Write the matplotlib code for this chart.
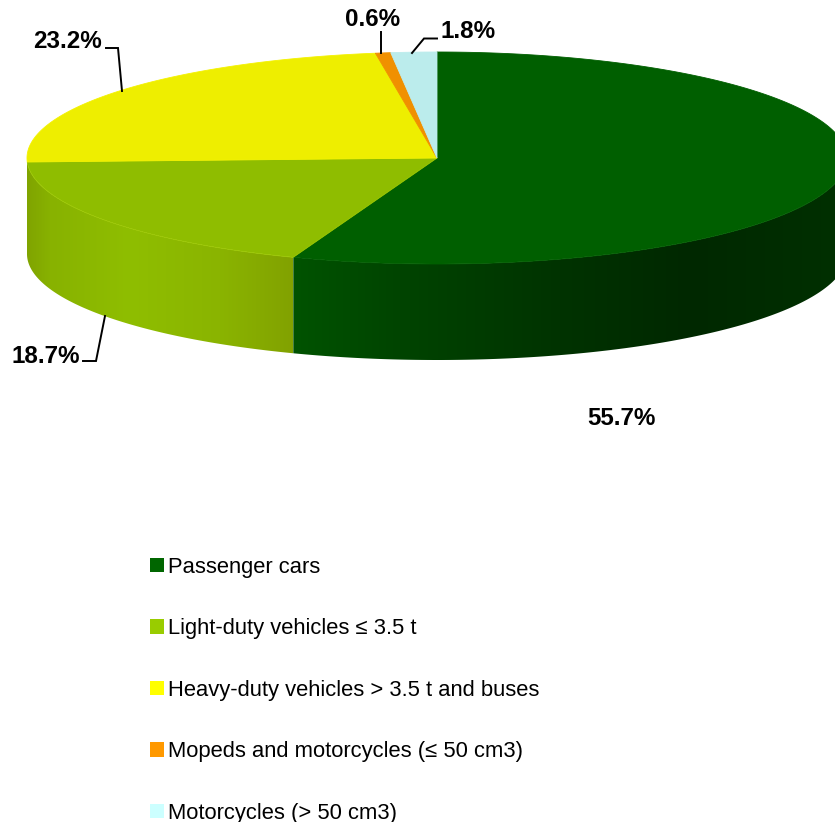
import numpy as np
import matplotlib
matplotlib.use("Agg")
import matplotlib.pyplot as plt
from matplotlib.patches import Polygon, Patch
from matplotlib.colors import to_rgb

plt.rcParams['font.family'] = ['Liberation Sans', 'DejaVu Sans']

categories = ["Passenger cars", "Light-duty vehicles ≤ 3.5 t",
              "Heavy-duty vehicles > 3.5 t and buses",
              "Mopeds and motorcycles (≤ 50 cm3)", "Motorcycles (> 50 cm3)"]
values = [55.7, 18.7, 23.2, 0.6, 1.8]
value_labels = ["55.7%", "18.7%", "23.2%", "0.6%", "1.8%"]
legend_colors = ["#006600", "#99CC00", "#FFFF00", "#FF9900", "#CCFFFF"]
top_colors = ["#005F00", "#8FBD00", "#EEEE00", "#F09000", "#BBECEC"]
edge_colors = ["#005F00", "#9CC800", "#F4F200", "#F09000", "#BBECEC"]

CX, CY, RX, RY, DEPTH = 437, 158, 410, 106, 96

fig = plt.figure(figsize=(8.35, 8.22), dpi=100)
ax = fig.add_axes([0, 0, 1, 1])
ax.set_xlim(0, 835)
ax.set_ylim(822, 0)
ax.axis("off")


def rim(a0, a1, n=300):
    a = np.radians(np.linspace(a0, a1, n))
    return CX + RX * np.sin(a), CY - RY * np.cos(a)


bounds = np.concatenate([[0], np.cumsum(values)]) * 360 / sum(values)

# Side wall: column-wise shading clipped to the visible rim of each slice
side_stops = {
    0: ([293, 400, 560, 690, 840], ["#005300", "#004400", "#003300", "#002800", "#003000"]),
    1: ([27, 50, 130, 220, 293], ["#80A400", "#88B200", "#8FBE00", "#8AB400", "#82A200"]),
}
for i in (0, 1):
    a0, a1 = bounds[i], bounds[i + 1]
    if i == 0:
        a0 = 90.0  # the wall of the first slice is visible from the right edge on
    else:
        a1 = 270.0
    x, y = rim(a0, a1)
    poly = np.vstack([np.c_[x, y], np.c_[x[::-1], y[::-1] + DEPTH]])
    xs, stops = side_stops[i]
    cols = np.arange(xs[0], xs[-1] + 1)
    rgb = np.array([to_rgb(c) for c in stops])
    grad = np.stack([np.interp(cols, xs, rgb[:, k]) for k in range(3)], axis=-1)[None, :, :]
    im = ax.imshow(grad, extent=(xs[0], xs[-1], 370, 50), aspect="auto", zorder=1,
                   interpolation="bilinear")
    clip = Polygon(poly, closed=True, transform=ax.transData, facecolor="none", edgecolor="none")
    ax.add_patch(clip)
    im.set_clip_path(clip)
ax.set_xlim(0, 835)
ax.set_ylim(822, 0)

# Top face
for i, c in enumerate(top_colors):
    x, y = rim(bounds[i], bounds[i + 1])
    ax.add_patch(Polygon(np.vstack([[CX, CY], np.c_[x, y]]), closed=True, facecolor=c,
                         edgecolor=edge_colors[i], linewidth=0.6, zorder=2))

# Leader lines
leaders = [([106, 118, 122], [48, 48, 91]),
           ([381, 381], [32, 53]),
           ([412, 424, 437], [53, 38.5, 38.5]),
           ([83, 96, 105], [361, 361, 316])]
for lx, ly in leaders:
    ax.plot(lx, ly, color="black", lw=1.4, zorder=4, solid_joinstyle="miter")

# Value labels
label_pos = [(621, 418), (46, 356), (68, 42), (372.5, 20), (468.5, 32)]
for s, (px, py) in zip(value_labels, label_pos):
    ax.text(px, py, s, ha="center", va="center", fontsize=17.4, fontweight="bold",
            color="black", zorder=5)

# Legend
handles = [Patch(facecolor=c, edgecolor="none") for c in legend_colors]
fs = 15.8
ax.legend(handles, categories, loc="upper left", bbox_to_anchor=(150 / 835, 1 - 556.5 / 822),
          bbox_transform=fig.transFigure, frameon=False, fontsize=fs, borderpad=0, borderaxespad=0,
          handlelength=0.64, handleheight=0.64, handletextpad=0.18, labelspacing=1.846)

fig.savefig("out.png", dpi=100)
